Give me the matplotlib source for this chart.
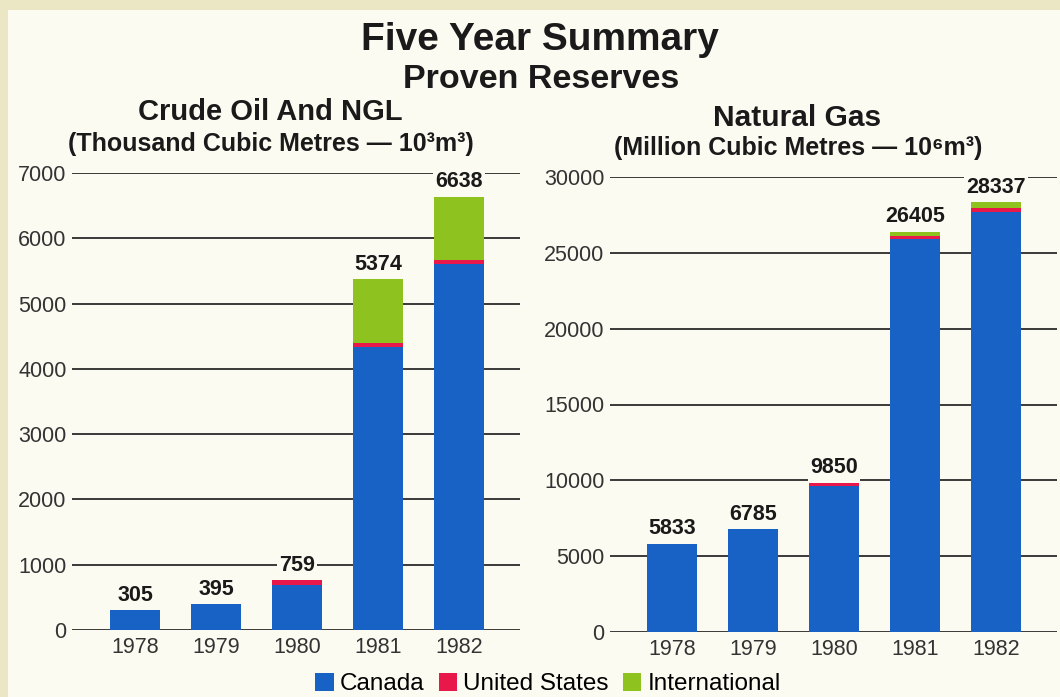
import matplotlib
matplotlib.use("Agg")
import matplotlib.pyplot as plt
from matplotlib.patches import Rectangle
import numpy as np

years = ["1978", "1979", "1980", "1981", "1982"]

# Crude Oil and NGL (thousand cubic metres)
oil_canada = [305, 395, 695, 4335, 5607]
oil_us = [0, 0, 64, 62, 61]
oil_intl = [0, 0, 0, 977, 970]
oil_totals = [305, 395, 759, 5374, 6638]
oil_ticks = [0, 1000, 2000, 3000, 4000, 5000, 6000, 7000]

# Natural Gas (million cubic metres)
gas_canada = [5833, 6785, 9650, 25900, 27700]
gas_us = [0, 0, 200, 215, 288]
gas_intl = [0, 0, 0, 290, 349]
gas_totals = [5833, 6785, 9850, 26405, 28337]
gas_ticks = [0, 5000, 10000, 15000, 20000, 25000, 30000]

series_names = ["Canada", "United States", "International"]
colors = ["#1862c6", "#e8184a", "#8dc21f"]

FONT = ["Liberation Sans", "DejaVu Sans"]
plt.rcParams["font.family"] = FONT

BG_OUT = "#ebe6c3"
BG_IN = "#fbfbf2"
TXT = "#1a1a1a"

fig = plt.figure(figsize=(10.6, 6.97), dpi=100, facecolor=BG_OUT)
fig.patches.append(Rectangle((8 / 1060, 0), 1 - 8 / 1060, 1 - 10 / 697,
                             transform=fig.transFigure, facecolor=BG_IN,
                             edgecolor="none", zorder=-10))

W, H = 1060, 697


def make_axes(x0, x1, y0, y1):
    return fig.add_axes([x0 / W, 1 - y0 / H, (x1 - x0) / W, (y0 - y1) / H])


def draw(ax, canada, us, intl, totals, ticks, ymax, xlim):
    x = np.arange(len(years))
    ax.set_facecolor("none")
    for t in ticks:
        ax.axhline(t, color="#2a2a2a", lw=1.3, zorder=1)
    w = 0.62
    ax.bar(x, canada, w, color=colors[0], zorder=3, label=series_names[0])
    ax.bar(x, us, w, bottom=canada, color=colors[1], zorder=3, label=series_names[1])
    bottoms = np.array(canada) + np.array(us)
    ax.bar(x, intl, w, bottom=bottoms, color=colors[2], zorder=3, label=series_names[2])
    for xi, tot in zip(x, totals):
        ax.annotate(f"{tot}", (xi, tot), xytext=(0, 3), textcoords="offset points",
                    ha="center", va="bottom", fontsize=15.5, fontweight="bold",
                    color=TXT, zorder=4,
                    bbox=dict(boxstyle="square,pad=0.1", fc=BG_IN, ec="none"))
    ax.set_ylim(0, ymax)
    ax.set_xlim(*xlim)
    ax.set_yticks(ticks)
    ax.set_yticklabels([str(t) for t in ticks], fontsize=15.5, color="#333333")
    ax.set_xticks(x)
    ax.set_xticklabels(years, fontsize=15.5, color="#333333")
    ax.tick_params(axis="both", length=0)
    ax.tick_params(axis="y", pad=4)
    ax.tick_params(axis="x", pad=5)
    for s in ax.spines.values():
        s.set_visible(False)


ax1 = make_axes(72, 520, 630, 173)
draw(ax1, oil_canada, oil_us, oil_intl, oil_totals, oil_ticks, 7000, (-0.78, 4.75))

ax2 = make_axes(610, 1057, 632, 177)
draw(ax2, gas_canada, gas_us, gas_intl, gas_totals, gas_ticks, 30000, (-0.765, 4.75))

fig.text(540 / W, 1 - 40 / H, "Five Year Summary", ha="center", va="center",
         fontsize=28, fontweight="bold", color=TXT)
fig.text(541 / W, 1 - 80 / H, "Proven Reserves", ha="center", va="center",
         fontsize=24.5, fontweight="bold", color=TXT)
fig.text(270 / W, 1 - 112 / H, "Crude Oil And NGL", ha="center", va="center",
         fontsize=21, fontweight="bold", color=TXT)
fig.text(271 / W, 1 - 144 / H, "(Thousand Cubic Metres — 10³m³)", ha="center",
         va="center", fontsize=18, fontweight="bold", color=TXT)
fig.text(797 / W, 1 - 118 / H, "Natural Gas", ha="center", va="center",
         fontsize=21.5, fontweight="bold", color=TXT)
fig.text(798 / W, 1 - 148 / H, "(Million Cubic Metres — 10⁶m³)", ha="center",
         va="center", fontsize=18, fontweight="bold", color=TXT)

handles, labels = ax1.get_legend_handles_labels()
fig.legend(handles, labels, loc="center", bbox_to_anchor=(548 / W, 1 - 684 / H),
           ncol=3, frameon=False, fontsize=17.5, handlelength=0.75, handleheight=0.8,
           handletextpad=0.25, columnspacing=0.6, borderaxespad=0)

fig.savefig("out.png", dpi=100, facecolor=BG_OUT)
